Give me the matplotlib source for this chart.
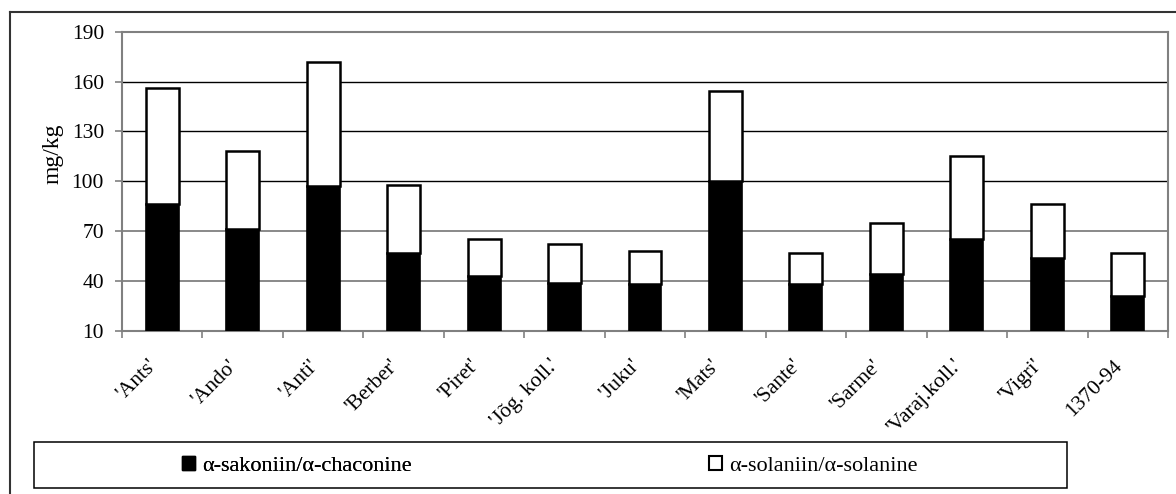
import matplotlib
matplotlib.use("Agg")
import matplotlib.pyplot as plt
from matplotlib.patches import Patch, Rectangle
from matplotlib.lines import Line2D
from matplotlib.transforms import ScaledTranslation
import numpy as np

categories = ["'Ants'", "'Ando'", "'Anti'", "'Berber'", "'Piret'", "'Jõg. koll.'", "'Juku'",
              "'Mats'", "'Sante'", "'Sarme'", "'Varaj.koll.'", "'Vigri'", "1370-94"]
chaconine = [86, 71, 97, 57, 43, 39, 38, 100, 38, 44, 65, 54, 31]
solanine = [70, 47, 75, 41, 22, 23, 20, 54, 19, 31, 50, 32, 26]
yticks = [10, 40, 70, 100, 130, 160, 190]
label_chaconine = "α-sakoniin/α-chaconine"
label_solanine = "α-solaniin/α-solanine"
ylabel = "mg/kg"

plt.rcParams['font.family'] = ['Liberation Serif', 'DejaVu Serif']
FS_TICK = 15.5
FS_LEG = 16
FS_YLAB = 17

W, H = 1176, 494
fig = plt.figure(figsize=(W / 100, H / 100), dpi=100)
fig.patch.set_facecolor('white')

ax = fig.add_axes([122 / W, 1 - 330.7 / H, (1168 - 122) / W, (330.7 - 31.7) / H])

x = np.arange(len(categories))
bw = 0.41
ax.bar(x, chaconine, width=bw, color='black', edgecolor='black', linewidth=1.2, zorder=3)
ax.bar(x, solanine, width=bw, bottom=chaconine, color='white', edgecolor='black',
       linewidth=1.8, zorder=3)

ax.set_xlim(-0.5, len(categories) - 0.5)
ax.set_ylim(10, 190)
ax.set_yticks(yticks)
ax.set_yticklabels([str(v) for v in yticks], fontsize=FS_TICK)
ax.tick_params(axis='y', length=5, width=1.2, color='#808080', pad=8, direction='out')

ax.set_xticks(x)
ax.set_xticklabels(categories, fontsize=FS_TICK)
ax.tick_params(axis='x', which='major', length=0, pad=12)
ax.set_xticks(np.arange(-0.5, len(categories)), minor=True)
ax.tick_params(axis='x', which='minor', length=5, width=1.2, color='#808080', direction='out')
shift = ScaledTranslation(-15 / 100, -9 / 100, fig.dpi_scale_trans)
for lbl in ax.get_xticklabels():
    lbl.set_rotation(45)
    lbl.set_ha('right')
    lbl.set_va('top')
    lbl.set_rotation_mode('anchor')
    lbl.set_transform(lbl.get_transform() + shift)

ax.set_axisbelow(True)
ax.yaxis.grid(True)
for val, gl in zip(yticks, ax.get_ygridlines()):
    if val in (100, 130, 160):
        gl.set_color('black'); gl.set_linewidth(1.0)
    elif val in (40, 70):
        gl.set_color('#808080'); gl.set_linewidth(1.3)
    else:
        gl.set_visible(False)

for side in ['left', 'bottom', 'top', 'right']:
    ax.spines[side].set_color('#808080')
    ax.spines[side].set_linewidth(1.5)

ax.set_ylabel(ylabel, fontsize=FS_YLAB)
ax.yaxis.set_label_coords((63 - 122) / 1046, (330.7 - 154) / 299)

# outer frame lines (top and left)
fig.add_artist(Line2D([10 / W, 1.0], [1 - 12 / H, 1 - 12 / H], color='#333333', lw=1.5,
                      transform=fig.transFigure))
fig.add_artist(Line2D([10 / W, 10 / W], [1 - 12 / H, 0], color='#333333', lw=1.5,
                      transform=fig.transFigure))

# legend frame
fig.add_artist(Rectangle((34 / W, 1 - 488 / H), (1067 - 34) / W, (488 - 442) / H,
                         transform=fig.transFigure, facecolor='none', edgecolor='black', lw=1.1))

h1 = Patch(facecolor='black', edgecolor='black', linewidth=1.0)
h2 = Patch(facecolor='white', edgecolor='black', linewidth=1.5)
common = dict(frameon=False, loc='center left', fontsize=FS_LEG, borderpad=0, borderaxespad=0,
              handlelength=0.6, handleheight=0.6, handletextpad=0.3)
leg1 = fig.legend([h1], [label_chaconine], bbox_to_anchor=(182 / W, 1 - 466 / H), **common)
fig.add_artist(leg1)
leg2 = fig.legend([h2], [label_solanine], bbox_to_anchor=(709 / W, 1 - 466 / H), **common)

fig.savefig('out.png', dpi=100, facecolor='white')
